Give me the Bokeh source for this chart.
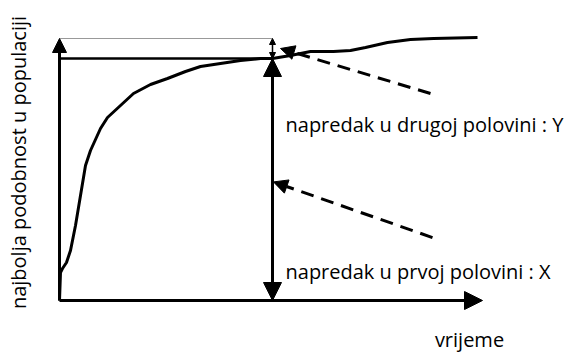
from bokeh.plotting import figure
from bokeh.models import Range1d, Arrow, NormalHead, Label
from bokeh.embed import file_html
from bokeh.resources import INLINE

# ---- data (schematic units: time, best fitness) ----
time = [0, 1, 3, 7, 11, 16, 21, 26, 31, 41, 48, 61, 74, 91, 108, 126, 141, 161,
        181, 201, 213, 231, 251, 274, 291, 306, 328, 351, 374, 418]
fitness = [0, 28, 32, 38, 50, 75, 105, 135, 150, 172, 183, 195, 207, 216, 222, 229,
           234, 237, 240, 242, 242, 245, 249, 249, 250, 253, 258, 261, 262, 263]
t_half = 213
f_half = 242
f_final = 262
t_axis_end = 423

label_y = "najbolja podobnost u populaciji"
label_x = "vrijeme"
label_second = "napredak u drugoj polovini : Y"
label_first = "napredak u prvoj polovini : X"

FONT = "Open Sans"
FS = "20px"

p = figure(width=571, height=352, output_backend="svg", toolbar_location=None,
           x_range=Range1d(-59, 512), y_range=Range1d(-52, 300), min_border=0)
p.axis.visible = False
p.grid.visible = False
p.outline_line_color = None
p.background_fill_color = "white"
p.border_fill_color = "white"

# thin top reference line
p.line([0, t_half], [f_final, f_final], line_color="#999999", line_width=1)
# half-level horizontal line
p.line([0, t_half], [f_half, f_half], line_color="black", line_width=2.5)
# curve
p.line(time, fitness, line_color="black", line_width=3, line_join="round")

# axes arrows
p.add_layout(Arrow(end=NormalHead(size=14, fill_color="black", line_color="black"),
                   x_start=0, y_start=0, x_end=0, y_end=f_final, line_width=3))
p.add_layout(Arrow(end=NormalHead(size=18, fill_color="black", line_color="black"),
                   x_start=0, y_start=0, x_end=t_axis_end, y_end=0, line_width=3))

# first-half progress (X)
p.add_layout(Arrow(end=NormalHead(size=18, fill_color="black", line_color="black"),
                   start=NormalHead(size=18, fill_color="black", line_color="black"),
                   x_start=t_half, y_start=0, x_end=t_half, y_end=f_half, line_width=3))
# second-half progress (Y)
p.add_layout(Arrow(end=NormalHead(size=6, fill_color="black", line_color="black"),
                   start=NormalHead(size=6, fill_color="black", line_color="black"),
                   x_start=t_half, y_start=f_half, x_end=t_half, y_end=f_final, line_width=1.5))

# dashed pointers
p.add_layout(Arrow(end=NormalHead(size=14, fill_color="black", line_color="black"),
                   x_start=t_half + 158, y_start=f_half - 35,
                   x_end=t_half + 8, y_end=(f_half + f_final) / 2,
                   line_width=3, line_dash="13 8"))
p.add_layout(Arrow(end=NormalHead(size=14, fill_color="black", line_color="black"),
                   x_start=t_half + 160, y_start=f_half * 0.26,
                   x_end=t_half + 1, y_end=f_half * 0.49,
                   line_width=3, line_dash="13 8"))

# labels
p.add_layout(Label(x=t_half + 13, y=f_half - 66, text=label_second, text_font=FONT,
                   text_font_size=FS, text_color="black", text_baseline="alphabetic"))
p.add_layout(Label(x=t_half + 13, y=29, text=label_first, text_font=FONT,
                   text_font_size=FS, text_color="black", text_baseline="alphabetic"))
p.add_layout(Label(x=t_axis_end - 13, y=-39, text=label_x, text_font=FONT,
                   text_font_size=FS, text_color="black", text_align="center",
                   text_baseline="alphabetic"))
p.add_layout(Label(x=-41, y=138, text=label_y, text_font=FONT, angle=1.5708,
                   text_font_size=FS, text_color="black", text_align="center",
                   text_baseline="middle"))

open("out.html", "w").write(file_html(p, INLINE))
